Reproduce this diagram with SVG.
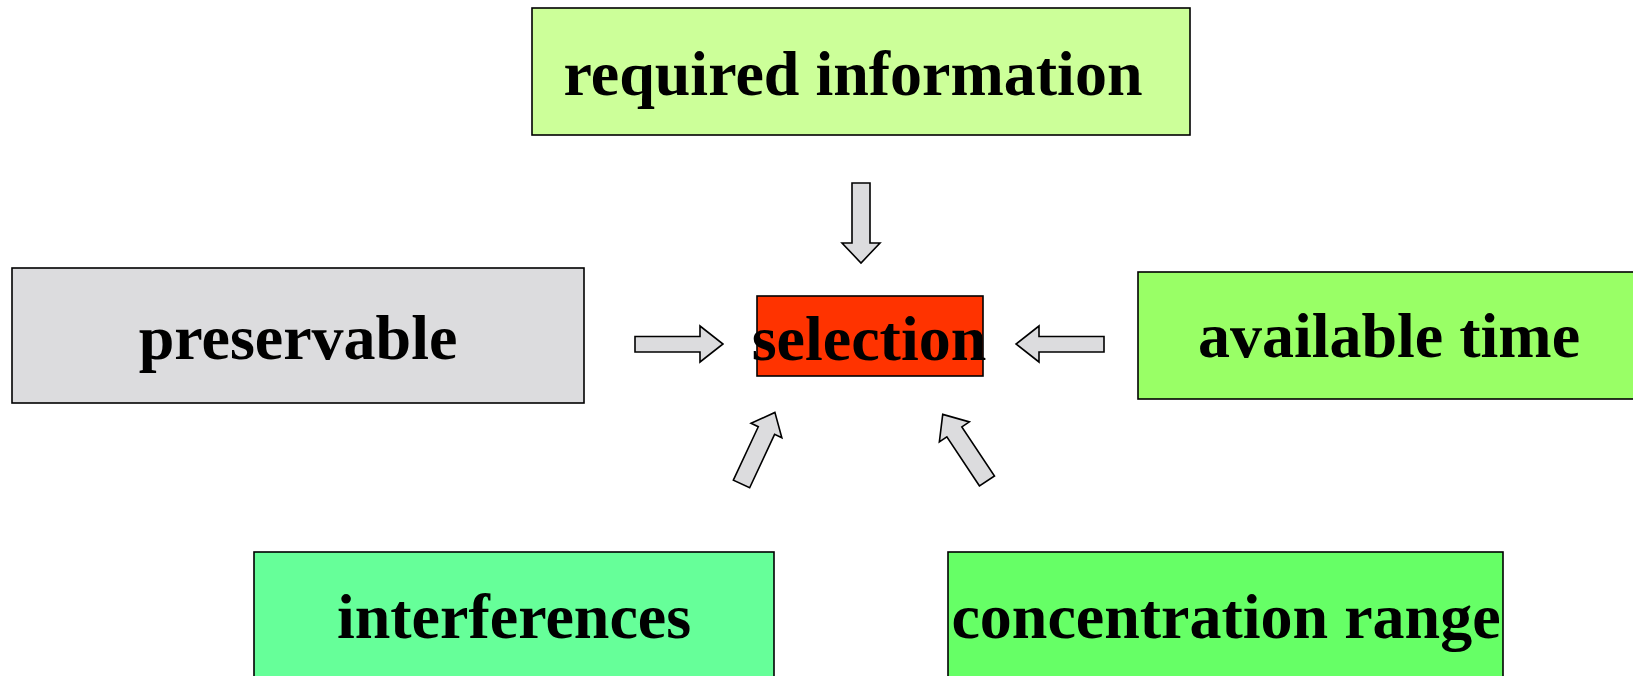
<svg xmlns="http://www.w3.org/2000/svg" width="1633" height="676" viewBox="0 0 1633 676">
  <style>
    .box { stroke: #000; stroke-width: 1.6; }
    .label { font-family: "Liberation Serif", "Times New Roman", serif; font-weight: bold; font-size: 64px; fill: #000; text-anchor: middle; }
    .arrow { fill: #DCDCDE; stroke: #000; stroke-width: 1.6; stroke-linejoin: miter; }
  </style>
  <rect width="1633" height="676" fill="#fff"/>

  <g id="required-information">
    <rect class="box" x="532" y="8" width="658" height="127" fill="#CCFF99"/>
    <text class="label" x="853" y="95">required information</text>
  </g>

  <g id="preservable">
    <rect class="box" x="12" y="268" width="572" height="135" fill="#DCDCDE"/>
    <text class="label" x="298" y="359">preservable</text>
  </g>

  <g id="available-time">
    <rect class="box" x="1138" y="272" width="497" height="127" fill="#99FF66"/>
    <text class="label" x="1389" y="357">available time</text>
  </g>

  <g id="interferences">
    <rect class="box" x="254" y="552" width="520" height="140" fill="#66FF99"/>
    <text class="label" x="514" y="638">interferences</text>
  </g>

  <g id="concentration-range">
    <rect class="box" x="948" y="552" width="555" height="140" fill="#66FF66"/>
    <text class="label" x="1226" y="638">concentration range</text>
  </g>

  <g id="selection">
    <rect class="box" x="757" y="296" width="226" height="80" fill="#FF3300"/>
    <text class="label" x="869" y="360">selection</text>
  </g>

  <!-- block arrows pointing into the central box -->
  <g id="connectors">
    <!-- from top -->
    <polygon class="arrow" points="852,183 870,183 870,243 880,243 861,263 842,243 852,243"/>
    <!-- from left -->
    <polygon class="arrow" points="635,336.5 700,336.5 700,326 723,344 700,362 700,352 635,352"/>
    <!-- from right -->
    <polygon class="arrow" points="1104,336.5 1039,336.5 1039,326 1016,344 1039,362 1039,352 1104,352"/>
    <!-- from lower left -->
    <polygon class="arrow" transform="translate(741.5,484) rotate(-65)" points="0,-9 59,-9 59,-17 79,0 59,17 59,9 0,9"/>
    <!-- from lower right -->
    <polygon class="arrow" transform="translate(987,481) rotate(-123.6)" points="0,-9 59,-9 59,-18 80,0 59,18 59,9 0,9"/>
  </g>
</svg>
